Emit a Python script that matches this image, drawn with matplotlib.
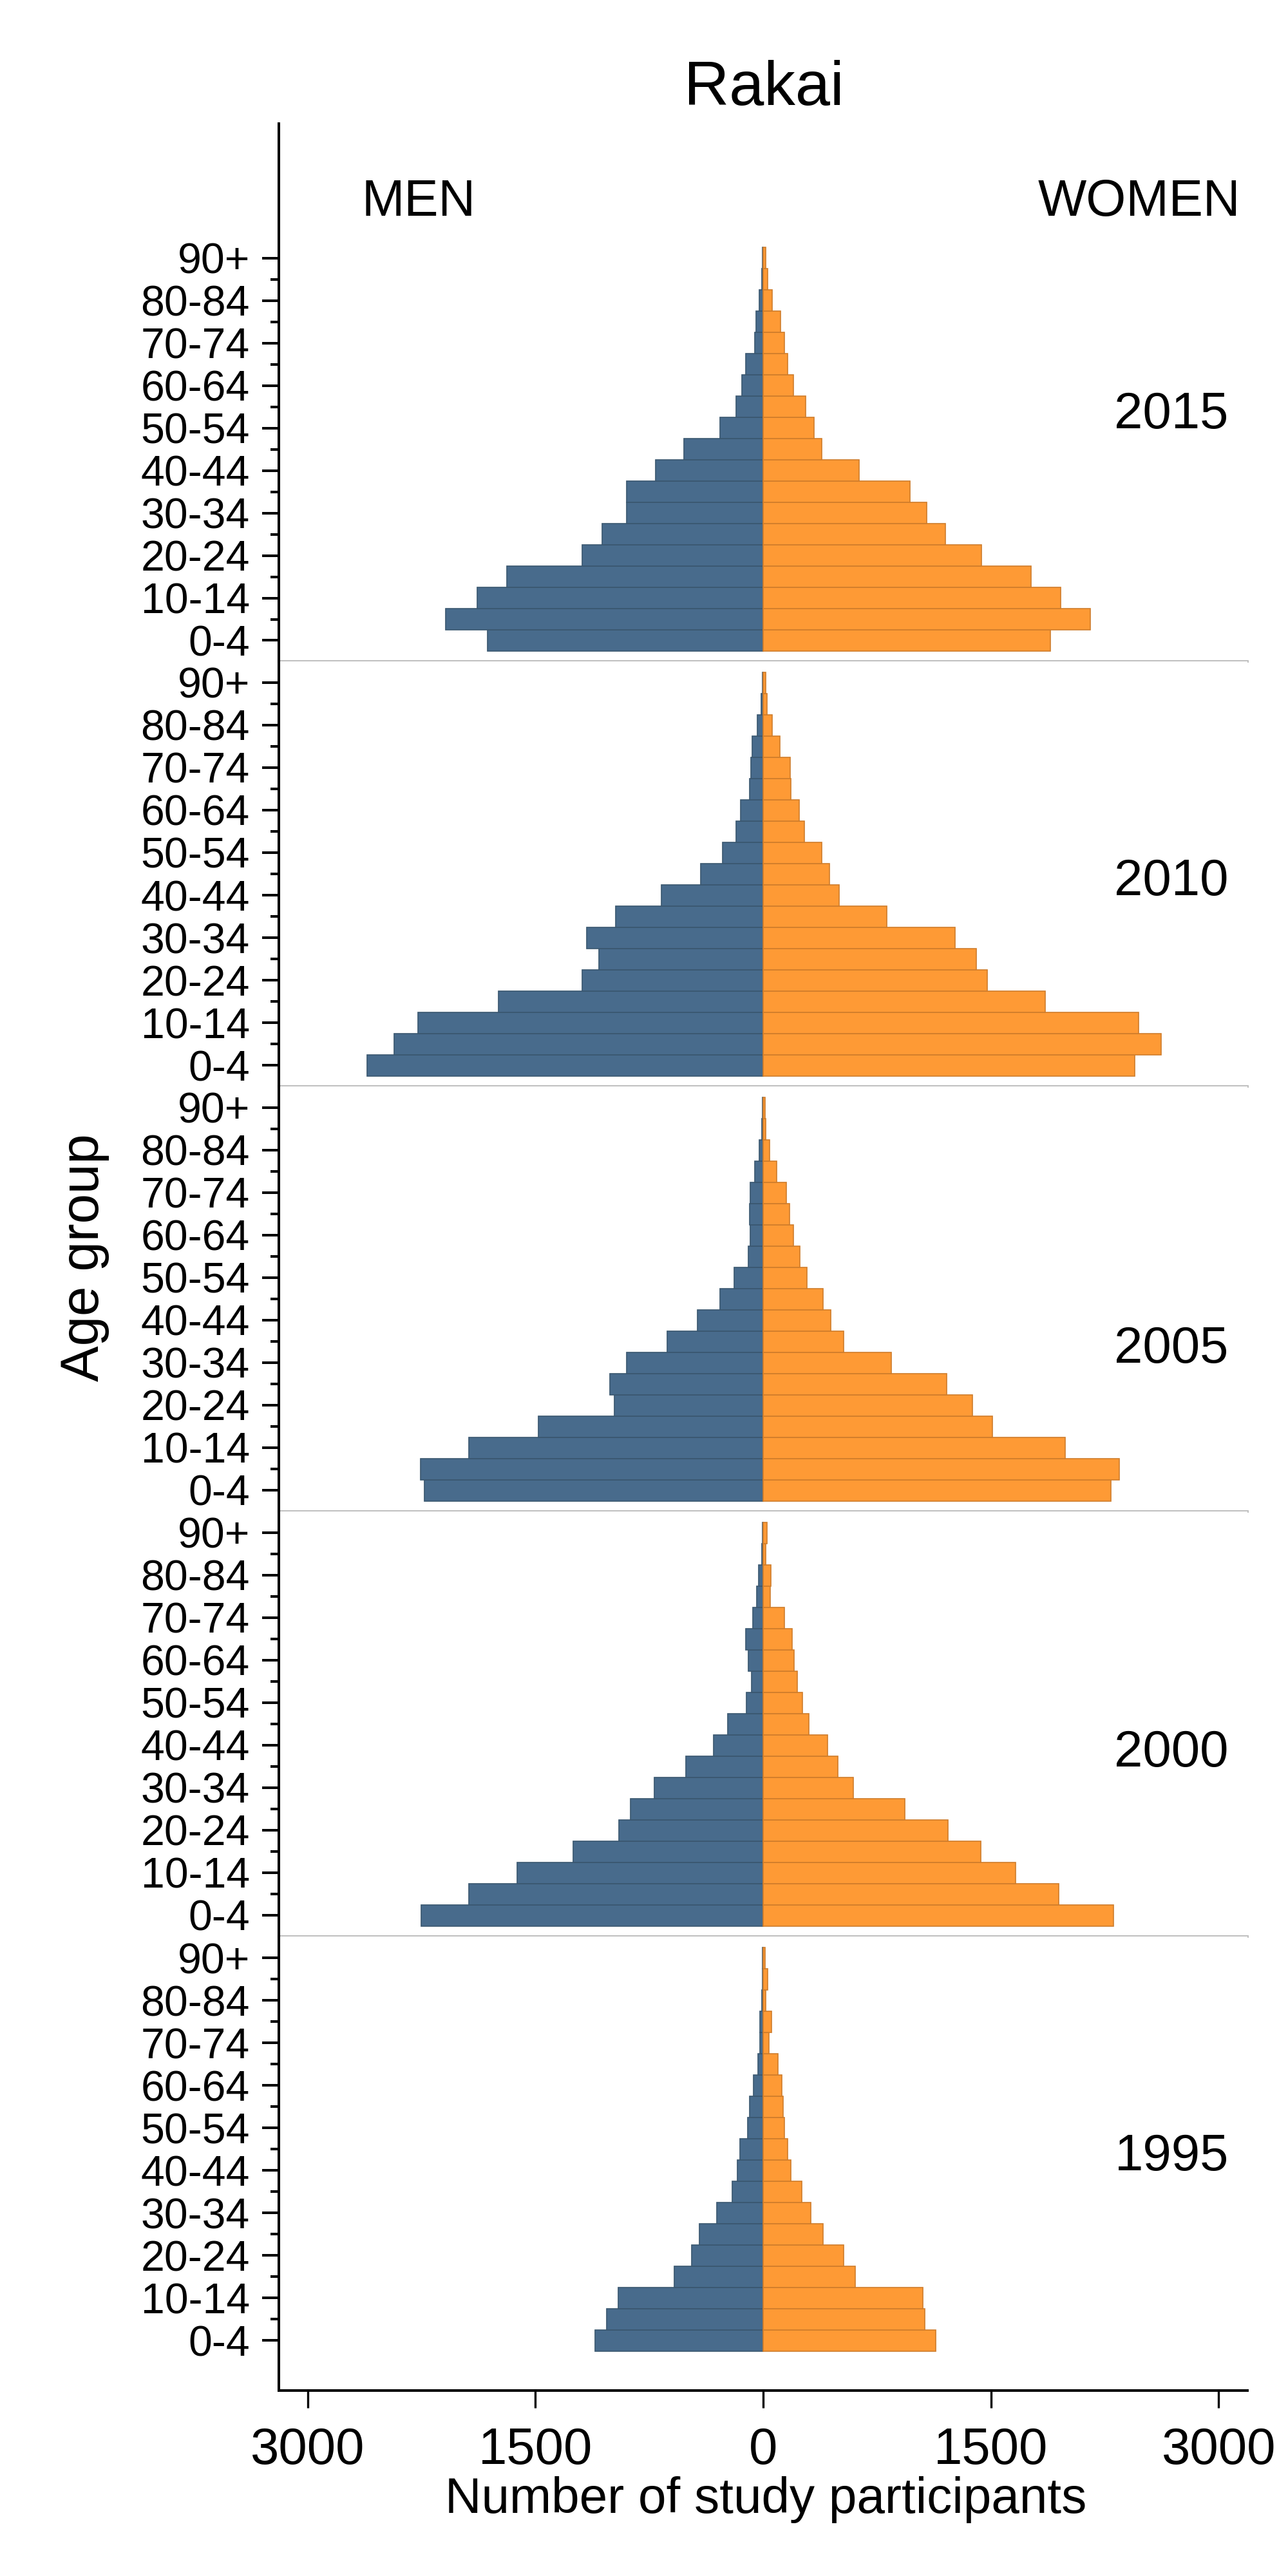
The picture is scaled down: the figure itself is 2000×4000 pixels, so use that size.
import matplotlib
matplotlib.use("Agg")
import matplotlib.pyplot as plt
import numpy as np

plt.rcParams['font.family'] = ['Liberation Sans', 'DejaVu Sans']

# age groups, youngest first
age_groups = ['0-4', '5-9', '10-14', '15-19', '20-24', '25-29', '30-34', '35-39',
              '40-44', '45-49', '50-54', '55-59', '60-64', '65-69', '70-74',
              '75-79', '80-84', '85-89', '90+']

years = [2015, 2010, 2005, 2000, 1995]

# participants per age group
men_2015 = [1814, 2091, 1881, 1689, 1190, 1060, 897, 901, 708, 520, 285, 176, 138, 113, 54, 46, 25, 8, 4]
women_2015 = [1890, 2154, 1961, 1764, 1437, 1198, 1077, 968, 633, 385, 335, 281, 201, 163, 142, 113, 59, 29, 17]

men_2010 = [2606, 2430, 2271, 1743, 1190, 1081, 1161, 972, 670, 411, 268, 180, 147, 88, 80, 71, 38, 13, 4]
women_2010 = [2447, 2619, 2472, 1856, 1475, 1404, 1265, 813, 499, 436, 385, 272, 239, 184, 176, 109, 59, 25, 17]

men_2005 = [2229, 2254, 1936, 1479, 980, 1010, 901, 633, 432, 285, 189, 96, 84, 88, 84, 54, 25, 8, 4]
women_2005 = [2292, 2346, 1990, 1508, 1378, 1207, 842, 528, 444, 394, 289, 243, 201, 172, 151, 88, 42, 17, 13]

men_2000 = [2250, 1940, 1622, 1253, 951, 872, 716, 507, 327, 235, 109, 75, 96, 113, 67, 42, 29, 8, 4]
women_2000 = [2309, 1948, 1663, 1433, 1215, 934, 595, 494, 423, 302, 260, 226, 205, 189, 138, 46, 50, 17, 25]

men_1995 = [1106, 1031, 955, 587, 469, 419, 306, 205, 168, 151, 101, 88, 63, 34, 21, 21, 8, 4, 4]
women_1995 = [1135, 1064, 1052, 608, 532, 394, 314, 256, 184, 163, 138, 130, 122, 96, 38, 54, 17, 29, 13]

men = [men_2015, men_2010, men_2005, men_2000, men_1995]
women = [women_2015, women_2010, women_2005, women_2000, women_1995]

# row where each year label sits
year_label_row = [10, 8, 6, 7, 8]

xticks = [-3000, -1500, 0, 1500, 3000]
xticklabels = ['3000', '1500', '0', '1500', '3000']

men_color = '#486b8c'
women_color = '#fe9a35'

W, H = 2000, 4000
fig = plt.figure(figsize=(10, 20), dpi=200)

left_px, right_px = 433, 1937
# panel edges in pixels (top, bottom) and y-limits
panel_px = [(192, 1027), (1027, 1687), (1687, 2347), (2347, 3007), (3007, 3712)]
panel_ylim = [(-0.985, 24.32), (-1.0, 19.0), (-1.0, 19.0), (-1.0, 19.0), (-2.35, 19.0)]

y = np.arange(len(age_groups))
for k, year in enumerate(years):
    top, bot = panel_px[k]
    ax = fig.add_axes([left_px / W, 1 - bot / H, (right_px - left_px) / W, (bot - top) / H])
    ax.barh(y, -np.array(men[k]), height=1.0, color=men_color,
            edgecolor='#3a5770', linewidth=0.6)
    ax.barh(y, women[k], height=1.0, color=women_color,
            edgecolor='#cf7d2b', linewidth=0.6)
    ax.set_xlim(-3189, 3189)
    ax.set_ylim(*panel_ylim[k])

    ax.spines['top'].set_visible(False)
    ax.spines['right'].set_visible(False)
    ax.spines['left'].set_linewidth(1.45)

    ax.set_yticks(y[::2])
    ax.set_yticklabels(age_groups[::2], fontsize=23.8)
    ax.set_yticks(y[1::2], minor=True)
    ax.tick_params(axis='y', which='major', length=9.4, width=1.45, pad=6.8)
    ax.tick_params(axis='y', which='minor', length=4.7, width=1.45)

    ax.set_xticks(xticks)
    if k < len(years) - 1:
        ax.spines['bottom'].set_color('#bebebe')
        ax.spines['bottom'].set_linewidth(1.4)
        ax.tick_params(axis='x', which='both', bottom=False, labelbottom=False)
    else:
        ax.spines['bottom'].set_linewidth(1.45)
        ax.set_xticklabels(xticklabels, fontsize=28.7)
        ax.tick_params(axis='x', length=9.7, width=1.2, pad=10.4)

    ax.text(3065, year_label_row[k], str(year), ha='right', va='baseline', fontsize=28.7)

    if k == 0:
        ax.text(-2642, 20, 'MEN', ha='left', va='baseline', fontsize=28.7)
        ax.text(3143, 20, 'WOMEN', ha='right', va='baseline', fontsize=28.7)

fig.text(1186 / W, 1 - 163 / H, 'Rakai', ha='center', va='baseline', fontsize=35)
fig.text(1189 / W, 1 - 3902 / H, 'Number of study participants', ha='center',
         va='baseline', fontsize=28.2)
fig.text(131 / W, 1 - 1953 / H, 'Age group', rotation=90, ha='center', va='center',
         fontsize=30)

fig.savefig('out.png', dpi=200, facecolor='white')
